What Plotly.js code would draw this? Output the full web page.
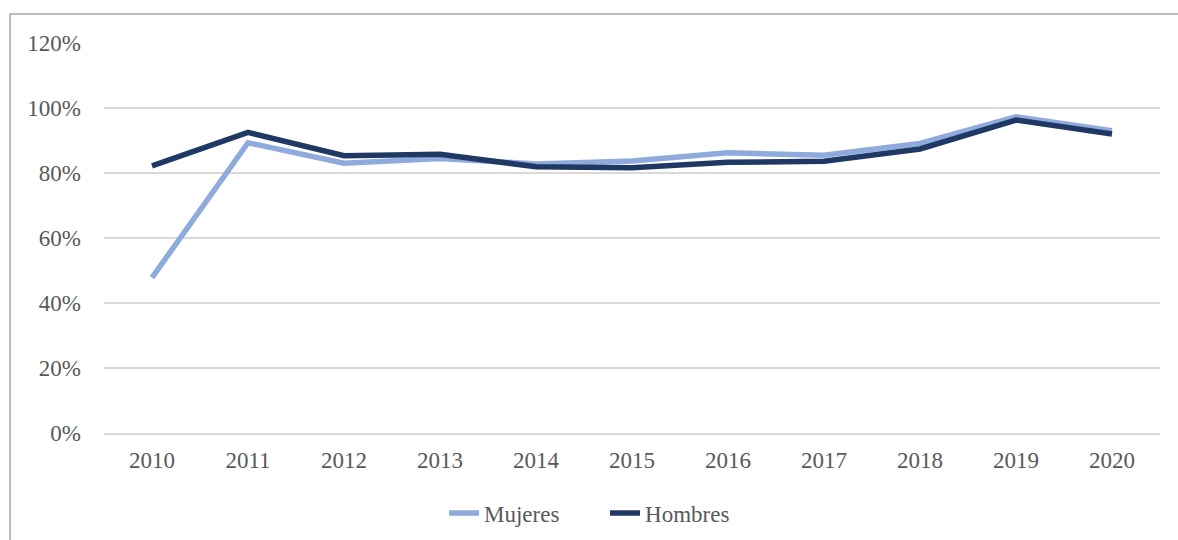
<!DOCTYPE html>
<html>
<head>
<meta charset="utf-8">
<script src="https://cdn.plot.ly/plotly-3.0.1.min.js"></script>
<style>html,body{margin:0;padding:0;background:#fff;}#chart{width:1178px;height:540px;}</style>
</head>
<body>
<div id="chart"></div>
<script>
const years = ['2010','2011','2012','2013','2014','2015','2016','2017','2018','2019','2020'];
const mujeres = [0.478, 0.893, 0.830, 0.845, 0.828, 0.837, 0.862, 0.855, 0.891, 0.973, 0.930];
const hombres = [0.822, 0.925, 0.853, 0.858, 0.819, 0.816, 0.833, 0.836, 0.874, 0.963, 0.920];
const yTicks = [0, 0.2, 0.4, 0.6, 0.8, 1.0, 1.2];
const yTickText = ['0%','20%','40%','60%','80%','100%','120%'];

const font = {family: '"Liberation Serif", "Times New Roman", serif', color: '#595959', size: 23};

const traces = [
  {x: years, y: mujeres, name: 'Mujeres', type: 'scatter', mode: 'lines',
   line: {color: '#8faadc', width: 5.5, shape: 'linear'}, hoverinfo: 'skip'},
  {x: years, y: hombres, name: 'Hombres', type: 'scatter', mode: 'lines',
   line: {color: '#203864', width: 5.5, shape: 'linear'}, hoverinfo: 'skip'}
];

const layout = {
  width: 1178, height: 540,
  margin: {l: 104, r: 18, t: 43, b: 107, pad: 0, autoexpand: false},
  paper_bgcolor: '#ffffff', plot_bgcolor: '#ffffff',
  font: font,
  showlegend: true,
  legend: {orientation: 'h', x: 0.322, xanchor: 'left', y: -0.205, yanchor: 'middle',
           font: font, itemwidth: 30, entrywidth: 116, entrywidthmode: 'pixels',
           traceorder: 'normal', bgcolor: 'rgba(0,0,0,0)'},
  xaxis: {type: 'category', showgrid: false, zeroline: false, showline: true,
          linecolor: '#d9d9d9', linewidth: 1.5, ticks: '', tickfont: font,
          ticklabelstandoff: 6, range: [-0.5, 10.5]},
  yaxis: {range: [0, 1.2], tickvals: yTicks, ticktext: yTickText, showgrid: true,
          gridcolor: '#d9d9d9', gridwidth: 1.5, zeroline: false, showline: false,
          ticks: '', tickfont: font, ticklabelstandoff: 22},
  shapes: [
    {type: 'rect', xref: 'paper', yref: 'paper', x0: -0.089, x1: 1.2, y0: -0.6, y1: 1.0744,
     line: {color: '#a6a6a6', width: 1.5}, fillcolor: 'rgba(0,0,0,0)', layer: 'below'}
  ]
};

Plotly.newPlot('chart', traces, layout, {displayModeBar: false, staticPlot: true});
</script>
</body>
</html>
